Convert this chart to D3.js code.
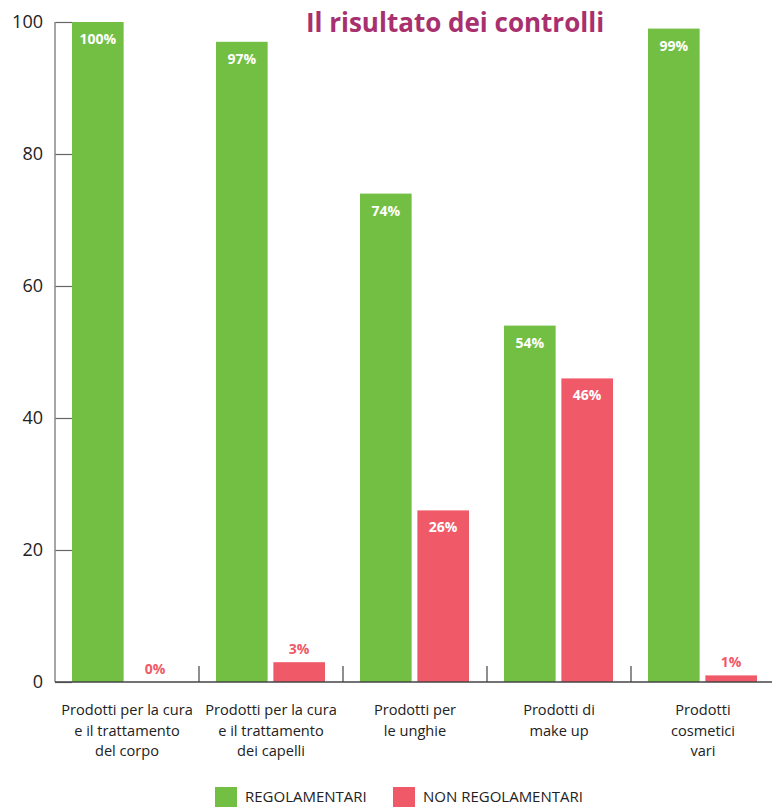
<!DOCTYPE html>
<html>
<head>
<meta charset="utf-8">
<script src="https://cdn.jsdelivr.net/npm/d3@7"></script>
<style>
  body { margin: 0; background: #fff; }
  text { font-family: "Open Sans", "Noto Sans", sans-serif; }
</style>
</head>
<body>
<div id="chart"></div>
<script>
// Chart data
const categories = [
    ["Prodotti per la cura", "e il trattamento", "del corpo"],
    ["Prodotti per la cura", "e il trattamento", "dei capelli"],
    ["Prodotti per", "le unghie"],
    ["Prodotti di", "make up"],
    ["Prodotti", "cosmetici", "vari"]
];
const seriesNames = ["REGOLAMENTARI", "NON REGOLAMENTARI"];
const regolamentari = [100, 97, 74, 54, 99];
const nonRegolamentari = [0, 3, 26, 46, 1];
const yTicks = [0, 20, 40, 60, 80, 100];

const colors = ["#72bf44", "#f05a68"];

const W = 772, H = 807;
const margins = { top: 22, left: 55, bottom: 125 };
const plotRight = 775;

const svg = d3.select("#chart")
    .append("svg")
    .attr("width", W)
    .attr("height", H);

// scales
const xScale = d3.scaleBand()
    .domain(d3.range(categories.length))
    .range([margins.left, plotRight])
    .paddingInner(0)
    .paddingOuter(0);

const inner = d3.scaleBand()
    .domain([0, 1])
    .range([17, xScale.bandwidth() - 18])
    .paddingInner(0.1);

const yScale = d3.scaleLinear()
    .domain([0, 100])
    .range([H - margins.bottom, margins.top]);

// y axis, ticks pointing inward
const yAxis = svg.append("g")
    .attr("transform", `translate(${margins.left},0)`)
    .call(d3.axisLeft(yScale).tickValues(yTicks).tickSize(-17).tickPadding(12));
yAxis.select(".domain").remove();
yAxis.selectAll(".tick line").attr("stroke", "#666").attr("stroke-width", 1.2);
yAxis.selectAll(".tick text")
    .attr("x", -12)
    .attr("font-size", 18)
    .attr("fill", "#222")
    .style("font-family", "'Open Sans', sans-serif");
svg.append("line")
    .attr("x1", margins.left).attr("x2", margins.left)
    .attr("y1", yScale(100)).attr("y2", yScale(0))
    .attr("stroke", "#888").attr("stroke-width", 1.5);

// bars
const groups = svg.selectAll(".grp")
    .data(categories.map((c, i) => ({ i, vals: [regolamentari[i], nonRegolamentari[i]] })))
    .join("g")
    .attr("class", "grp")
    .attr("transform", d => `translate(${xScale(d.i)},0)`);

groups.selectAll("rect")
    .data(d => d.vals.map((v, k) => ({ v, k })))
    .join("rect")
    .attr("x", d => inner(d.k))
    .attr("width", inner.bandwidth())
    .attr("y", d => yScale(d.v))
    .attr("height", d => yScale(0) - yScale(d.v))
    .attr("fill", d => colors[d.k]);

// value labels
groups.selectAll(".val")
    .data(d => d.vals.map((v, k) => ({ v, k })))
    .join("text")
    .attr("class", "val")
    .attr("x", d => inner(d.k) + inner.bandwidth() / 2)
    .attr("y", d => d.v > 10 ? yScale(d.v) + 22 : yScale(d.v) - 8)
    .attr("text-anchor", "middle")
    .attr("font-size", 14)
    .attr("font-weight", "bold")
    .attr("fill", d => d.v > 10 ? "#fff" : colors[1])
    .text(d => d.v + "%");

// x axis
const x0 = yScale(0);
svg.append("line")
    .attr("x1", margins.left).attr("x2", W)
    .attr("y1", x0).attr("y2", x0)
    .attr("stroke", "#444").attr("stroke-width", 1.5);

svg.selectAll(".sep")
    .data(d3.range(1, categories.length))
    .join("line")
    .attr("class", "sep")
    .attr("x1", d => xScale(d)).attr("x2", d => xScale(d))
    .attr("y1", x0 - 16).attr("y2", x0)
    .attr("stroke", "#444").attr("stroke-width", 1.2);

// category labels
svg.selectAll(".cat")
    .data(categories)
    .join("text")
    .attr("class", "cat")
    .attr("text-anchor", "middle")
    .attr("font-size", 14.6)
    .attr("fill", "#222")
    .each(function(lines, i) {
        const cx = xScale(i) + xScale.bandwidth() / 2;
        d3.select(this).selectAll("tspan")
            .data(lines)
            .join("tspan")
            .attr("x", cx)
            .attr("y", (l, j) => x0 + 33 + j * 20.5)
            .text(l => l);
    });

// title
svg.append("text")
    .attr("x", 455)
    .attr("y", 32)
    .attr("text-anchor", "middle")
    .attr("font-size", 26)
    .attr("font-weight", "bold")
    .attr("fill", "#a8306e")
    .text("Il risultato dei controlli");

// legend
const legendX = [215, 393];
const legend = svg.selectAll(".leg")
    .data(seriesNames)
    .join("g")
    .attr("class", "leg")
    .attr("transform", (d, i) => `translate(${legendX[i]},787)`);
legend.append("rect")
    .attr("width", 22).attr("height", 22)
    .attr("fill", (d, i) => colors[i]);
legend.append("text")
    .attr("x", 30).attr("y", 15)
    .attr("font-size", 15)
    .attr("fill", "#222")
    .text(d => d);
</script>
</body>
</html>
